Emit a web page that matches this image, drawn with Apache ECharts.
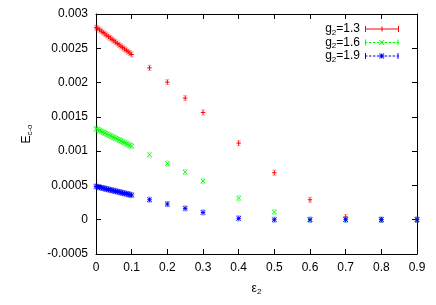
<!DOCTYPE html>
<html><head><meta charset="utf-8">
<script src="https://cdn.jsdelivr.net/npm/echarts@6/dist/echarts.min.js"></script>
<style>html,body{margin:0;padding:0;background:#fff}#c{width:436px;height:305px}</style>
</head><body><div id="c"></div>
<script>
// x values (epsilon_2)
const xDense = [0,0.005,0.01,0.015,0.02,0.025,0.03,0.035,0.04,0.045,0.05,0.055,0.06,0.065,0.07,0.075,0.08,0.085,0.09,0.095,0.1];
const xSparse = [0.15,0.2,0.25,0.3,0.4,0.5,0.6,0.7,0.8,0.9];
// g2 = 1.3
const redDense = [0.00280,0.00279,0.00277,0.00275,0.00273,0.00271,0.00269,0.00267,0.00265,0.00263,0.00261,0.00259,0.00257,0.00255,0.00253,0.00251,0.00249,0.00247,0.00245,0.00243,0.00241];
const redSparse = [0.002215,0.002006,0.001773,0.001564,0.001117,0.000685,0.000291,0.00004,0.0,0.0];
// g2 = 1.6
const greenDense = [0.001326,0.001314,0.001301,0.001288,0.001275,0.001263,0.00125,0.001237,0.001225,0.001212,0.0012,0.001187,0.001174,0.001162,0.001149,0.001136,0.001124,0.001111,0.001098,0.001086,0.001073];
const greenSparse = [0.000947,0.00082,0.000694,0.000563,0.000315,0.000111,0.0,0.0,0.0,0.0];
// g2 = 1.9
const blueDense = [0.000485,0.000479,0.000472,0.000466,0.00046,0.000454,0.000447,0.000441,0.000435,0.000428,0.000422,0.000416,0.00041,0.000403,0.000397,0.000391,0.000384,0.000378,0.000372,0.000365,0.000359];
const blueSparse = [0.000292,0.000228,0.000165,0.000106,0.00002,0.0,0.0,0.0,0.0,0.0];
const seriesNames = ['g2=1.3','g2=1.6','g2=1.9'];
const xTicks = [0,0.1,0.2,0.3,0.4,0.5,0.6,0.7,0.8,0.9];
const yTicks = [-0.0005,0,0.0005,0.001,0.0015,0.002,0.0025,0.003];

function pairs(xs, ys){ return xs.map((x,i)=>[x, ys[i]]); }
const redData = pairs(xDense, redDense).concat(pairs(xSparse, redSparse));
const greenData = pairs(xDense, greenDense).concat(pairs(xSparse, greenSparse));
const blueData = pairs(xDense, blueDense).concat(pairs(xSparse, blueSparse));

function marker(kind, color){
  return function(params, api){
    const p = api.coord([api.value(0), api.value(1)]);
    const r = 2.2;
    const st = {stroke: color, lineWidth: 1, fill: null};
    const lines = [];
    if (kind === 'plus' || kind === 'star'){
      lines.push({type:'line', shape:{x1:p[0]-r,y1:p[1],x2:p[0]+r,y2:p[1]}, style:st});
      lines.push({type:'line', shape:{x1:p[0],y1:p[1]-r,x2:p[0],y2:p[1]+r}, style:st});
    }
    if (kind === 'cross' || kind === 'star'){
      lines.push({type:'line', shape:{x1:p[0]-r,y1:p[1]-r,x2:p[0]+r,y2:p[1]+r}, style:st});
      lines.push({type:'line', shape:{x1:p[0]-r,y1:p[1]+r,x2:p[0]+r,y2:p[1]-r}, style:st});
    }
    const cs = Object.assign({},st,{opacity:0.4});
    lines.push({type:'line', shape:{x1:p[0]-2,y1:p[1]-2.5,x2:p[0]+2,y2:p[1]-2.5}, style:cs});
    lines.push({type:'line', shape:{x1:p[0]-2,y1:p[1]+2.5,x2:p[0]+2,y2:p[1]+2.5}, style:cs});
    return {type:'group', children: lines};
  };
}

const font = 'Liberation Sans, Arial, sans-serif';
function iconPath(mark, dashed){
  let s = '';
  if (dashed){
    for (let x=0; x<34; x+=4) s += 'M'+x+',3.5h2.5v1h-2.5z';
  } else s += 'M0,3.5h34v1h-34z';
  s += 'M0,1h1v6h-1zM33,1h1v6h-1z';
  if (mark==='plus'||mark==='star') s += 'M14.5,3.5h5v1h-5zM16.5,1.5h1v5h-1z';
  if (mark==='cross'||mark==='star') s += 'M14.5,1.5h1.2v1h-1.2zM18.3,1.5h1.2v1h-1.2zM15.5,2.5h1v1h-1zM17.5,2.5h1v1h-1zM15.5,4.5h1v1h-1zM17.5,4.5h1v1h-1zM14.5,5.5h1.2v1h-1.2zM18.3,5.5h1.2v1h-1.2zM16.3,3h1.4v2h-1.4z';
  return 'path://'+s;
}

const chart = echarts.init(document.getElementById('c'), null, {renderer:'canvas'});
const rich = {
  a:{fontSize:12, fontFamily:font, color:'#000'},
  s:{fontSize:8, fontFamily:font, color:'#000', padding:[7,0,0,0]}
};
const axisLine = {show:true, onZero:false, lineStyle:{color:'#000', width:1}};
const tick = {show:true, inside:true, length:5, lineStyle:{color:'#000'}};
chart.setOption({
  animation:false,
  backgroundColor:'#fff',
  grid:{left:96, right:19, top:14, bottom:51, show:false},
  legend:{
    right:32, top:18, orient:'vertical', align:'right', itemGap:0,
    itemWidth:34, itemHeight:8, selectedMode:false,
    formatter: function(n){ return '{a|g}{s|2}{a|=' + n.slice(3) + '}'; },
    textStyle:{rich: rich, lineHeight:12, padding:[0,0,0,0]},
    data:[
      {name:seriesNames[0], icon:iconPath('plus',false), itemStyle:{color:'#ff0000'}},
      {name:seriesNames[1], icon:iconPath('cross',true), itemStyle:{color:'#00ff00'}},
      {name:seriesNames[2], icon:iconPath('star',true), itemStyle:{color:'#0000ff'}}
    ]
  },
  xAxis:[{
    type:'value', min:0, max:0.9, interval:0.1,
    name:'{a|ε}{s|2}', nameLocation:'middle', nameGap:27,
    nameTextStyle:{rich: rich},
    axisLine:axisLine, axisTick:tick,
    axisLabel:{color:'#000', fontSize:12, fontFamily:font, margin:8,
      formatter:function(v){ return String(+v.toFixed(1)); }},
    splitLine:{show:false}
  },{
    type:'value', min:0, max:0.9, interval:0.1, position:'top',
    axisLine:axisLine, axisTick:tick,
    axisLabel:{show:false}, splitLine:{show:false}
  }],
  yAxis:[{
    type:'value', min:-0.0005, max:0.003, interval:0.0005,
    name:'{a|E}{s|c-o}', nameLocation:'middle', nameGap:62, nameRotate:90,
    nameTextStyle:{rich: rich},
    axisLine:axisLine, axisTick:tick,
    axisLabel:{color:'#000', fontSize:12, fontFamily:font, margin:8,
      formatter:function(v){ return String(+v.toFixed(4)); }},
    splitLine:{show:false}
  },{
    type:'value', min:-0.0005, max:0.003, interval:0.0005, position:'right',
    axisLine:axisLine, axisTick:tick,
    axisLabel:{show:false}, splitLine:{show:false}
  }],
  series:[
    {name:seriesNames[0], type:'custom', renderItem:marker('plus','#ff0000'), data:redData, itemStyle:{color:'#ff0000'}, z:3, clip:false},
    {name:seriesNames[1], type:'custom', renderItem:marker('cross','#00ff00'), data:greenData, itemStyle:{color:'#00ff00'}, z:4, clip:false},
    {name:seriesNames[2], type:'custom', renderItem:marker('star','#0000ff'), data:blueData, itemStyle:{color:'#0000ff'}, z:5, clip:false}
  ]
});
</script></body></html>
